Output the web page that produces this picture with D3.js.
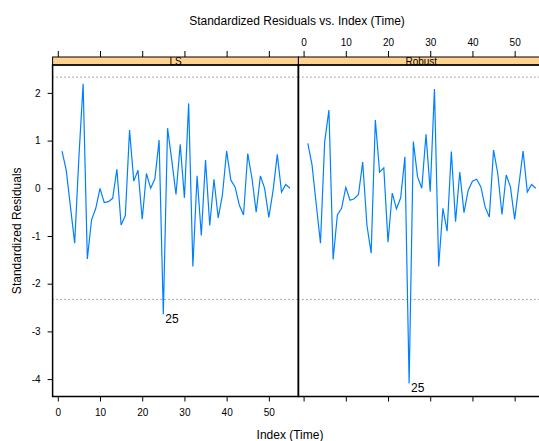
<!DOCTYPE html>
<html>
<head>
<meta charset="utf-8">
<script src="https://cdn.jsdelivr.net/npm/d3@7"></script>
<style>
  body { margin: 0; background: #fff; }
  text { font-family: "Liberation Sans", Arial, sans-serif; fill: #000; }
</style>
</head>
<body>
<div id="chart"></div>
<script>
var w = 539
var h = 441

// residuals by index 1..55
var lsResid = [0.78, 0.38, -0.39, -1.15, 0.65, 2.19, -1.48, -0.66, -0.42, 0.0,
  -0.30, -0.28, -0.21, 0.40, -0.77, -0.57, 1.22, 0.15, 0.38, -0.65,
  0.31, 0.0, 0.20, 1.01, -2.64, 1.26, 0.59, -0.13, 0.92, -0.20,
  1.78, -1.64, 0.26, -0.99, 0.59, -0.78, 0.19, -0.62, -0.14, 0.78,
  0.17, 0.03, -0.35, -0.56, 0.73, 0.21, -0.50, 0.26, 0.0, -0.61,
  -0.05, 0.71, -0.08, 0.08, 0.0]
var robustResid = [0.94, 0.49, -0.34, -1.15, 0.98, 1.64, -1.49, -0.56, -0.42, 0.02,
  -0.25, -0.22, -0.13, 0.55, -0.77, -1.36, 1.43, 0.34, 0.43, -1.13,
  -0.10, -0.43, -0.20, 0.66, -4.09, 0.98, 0.24, 0.0, 1.13, -0.07,
  2.08, -1.64, -0.42, -0.90, 0.77, -0.70, 0.34, -0.51, -0.04, 0.15,
  0.19, 0.03, -0.39, -0.60, 0.80, 0.31, -0.55, 0.28, 0.03, -0.65,
  0.07, 0.78, -0.08, 0.08, 0.0]
var panelNames = ['LS', 'Robust']
var xTicks = [0, 10, 20, 30, 40, 50]
var yTicks = [-4, -3, -2, -1, 0, 1, 2]
var cutoff = 2.33
var flagged = [25]

var panels = [
  { name: panelNames[0], values: lsResid, x0: 52.6 },
  { name: panelNames[1], values: robustResid, x0: 298.4 }
]
var pw = 245.8
var plotTop = 65
var plotBottom = 396.5
var stripTop = 57
var plain = function (d) { return String(d) }

var y = d3.scaleLinear().domain([-4.365, 2.585]).range([plotBottom, plotTop])

var svg = d3.select('#chart')
  .append('svg')
  .attr('width', w)
  .attr('height', h)

svg.append('text')
  .attr('x', 297)
  .attr('y', 25)
  .attr('text-anchor', 'middle')
  .style('font-size', '12px')
  .text('Standardized Residuals vs. Index (Time)')

svg.append('text')
  .attr('x', 290)
  .attr('y', 436)
  .attr('dominant-baseline', 'middle')
  .attr('text-anchor', 'middle')
  .style('font-size', '12px')
  .text('Index (Time)')

svg.append('text')
  .attr('transform', 'translate(18,' + ((plotTop + plotBottom) / 2) + ') rotate(-90)')
  .attr('dominant-baseline', 'middle')
  .attr('text-anchor', 'middle')
  .style('font-size', '12px')
  .text('Standardized Residuals')

panels.forEach(function (p, k) {
  var x = d3.scaleLinear().domain([-1.23, 57.0]).range([p.x0, p.x0 + pw])
  var g = svg.append('g')

  // strip
  g.append('rect')
    .attr('x', p.x0)
    .attr('y', stripTop)
    .attr('width', pw)
    .attr('height', plotTop - stripTop)
    .attr('fill', 'rgb(255,210,143)')
    .attr('stroke', '#000')
    .attr('stroke-width', 1)
  g.append('text')
    .attr('x', p.x0 + pw / 2)
    .attr('y', plotTop - 0.5)
    .attr('text-anchor', 'middle')
    .style('font-size', '10px')
    .text(p.name)

  // reference lines
  ;[cutoff, -cutoff].forEach(function (c) {
    g.append('line')
      .attr('x1', p.x0).attr('x2', p.x0 + pw)
      .attr('y1', y(c)).attr('y2', y(c))
      .attr('stroke', '#555')
      .attr('stroke-width', 1)
      .attr('stroke-dasharray', '1 3')
  })

  var line = d3.line()
    .x(function (d, i) { return x(i + 1) })
    .y(function (d) { return y(d) })

  g.append('path')
    .attr('d', line(p.values))
    .attr('fill', 'none')
    .attr('stroke', '#0080ff')
    .attr('stroke-width', 1.2)

  flagged.forEach(function (i) {
    g.append('text')
      .attr('x', x(i) + 2)
      .attr('y', y(p.values[i - 1]) + 9)
      .style('font-size', '12px')
      .text(i)
  })

  // panel box
  g.append('rect')
    .attr('x', p.x0)
    .attr('y', plotTop)
    .attr('width', pw)
    .attr('height', plotBottom - plotTop)
    .attr('fill', 'none')
    .attr('stroke', '#000')
    .attr('stroke-width', 1.5)

  // bottom axis (labels only on first panel)
  var bAxis = d3.axisBottom(x).tickValues(xTicks).tickSizeOuter(0).tickSizeInner(5).tickPadding(7)
    .tickFormat(k === 0 ? plain : '')
  var gb = g.append('g').attr('transform', 'translate(0,' + plotBottom + ')').call(bAxis)

  // top axis (labels only on second panel)
  var tAxis = d3.axisTop(x).tickValues(xTicks).tickSizeOuter(0).tickSizeInner(6).tickPadding(5)
    .tickFormat(k === 1 ? plain : '')
  var gt = g.append('g').attr('transform', 'translate(0,' + stripTop + ')').call(tAxis)

  ;[gb, gt].forEach(function (ax) {
    ax.select('.domain').remove()
    ax.selectAll('text').style('font-size', '10px').style('font-family', '"Liberation Sans", Arial, sans-serif')
  })

  if (k === 0) {
    var gl = g.append('g').attr('transform', 'translate(' + p.x0 + ',0)')
      .call(d3.axisLeft(y).tickValues(yTicks).tickFormat(plain).tickSizeOuter(0).tickSizeInner(5).tickPadding(7))
    gl.select('.domain').remove()
    gl.selectAll('text').style('font-size', '10px').style('font-family', '"Liberation Sans", Arial, sans-serif')
  }
})
</script>
</body>
</html>
